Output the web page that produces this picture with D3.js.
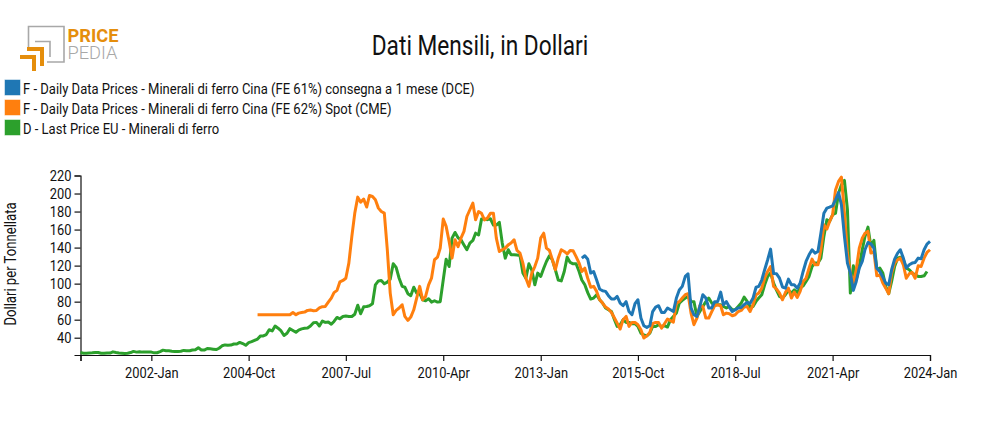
<!DOCTYPE html>
<html>
<head>
<meta charset="utf-8">
<script src="https://cdn.jsdelivr.net/npm/d3@7"></script>
<style>
    body { margin: 0; background: #fff; }
    svg text { font-family: Roboto, sans-serif; fill: #111; }
</style>
</head>
<body>
<div id="chart"></div>
<script>
// data (monthly, dollars per tonne)
const legendLabels = [
    "F - Daily Data Prices - Minerali di ferro Cina (FE 61%) consegna a 1 mese (DCE)",
    "F - Daily Data Prices - Minerali di ferro Cina (FE 62%) Spot (CME)",
    "D - Last Price EU - Minerali di ferro"
];
const seriesColors = ["#1f77b4", "#ff7f0e", "#2ca02c"];
const yTicks = [40, 60, 80, 100, 120, 140, 160, 180, 200, 220];
const xTickLabels = ["2000-Jan", "2002-Jan", "2004-Oct", "2007-Jul", "2010-Apr", "2013-Jan", "2015-Oct", "2018-Jul", "2021-Apr", "2024-Jan"];

// starts 2014-Mar
const blueValues = [
    128.3,130.9,127,111.7,113.5,104,94,92,91.4,86.6,
    82.9,82.9,85.8,78.4,75.5,80,69,65.5,77.7,82.1,61.8,53.3,
    51.4,53.3,69,74,75.5,68,68,73,71,69,84,93,
    97,108,111,73,65.5,63.6,74.7,87.7,84,73,73,80,
    80,90.6,76.6,80,74,69,71,73,73.6,76.6,79,78,
    84,96,97,104,115.4,126.5,138.3,111.3,110.9,106.1,96.2,95,
    105,98.7,98.7,95,100.6,113.5,124.6,132,137.6,133.9,135.7,156,
    178.2,183.8,184.9,186.4,193,201.2,187.5,152.4,122.8,111.7,92.5,102.4,
    117.2,124.6,137.6,145.7,144.2,139.4,117.2,113.5,107.3,100.6,98.7,115.4,
    127.2,133.9,137.6,128.3,117.2,121,122.8,123.5,128.3,127.6,137.6,143.9,
    146.8
];
// starts 2005-Jan
const orangeValues = [
    65.5,65.5,65.5,65.5,65.5,65.5,65.5,65.5,65.5,65.5,65.5,65.5,
    68,65.5,67.3,68,68.4,70.3,70.7,70,70.3,73,74.4,74.7,
    79.5,84,90,92.5,102,103.5,106,122.8,152.4,178,196,190.4,
    193.8,185,197.8,196.7,193,183.8,180,178.2,137.6,89.5,65.5,70.3,
    73,76.6,63.6,59.2,62.9,71,84,97,82,85.8,98.7,106,
    126.5,129.4,139.4,171.6,163.5,146.8,128.3,148.7,141,150.5,158,174.5,
    182,189.3,170.8,180,178,170.8,172.7,178,178,150.5,135.7,137.6,
    139.4,143,145,148.7,136.8,133.9,122.8,106,97,111.7,119,128.3,
    150.5,156,139.4,136.8,126.5,115.4,128.3,137.6,135.7,133,136.8,136.5,
    130,122.8,113.5,117.2,106,96,97,91.4,82,78.4,74,71.8,
    68,61.8,56.2,49.6,60,63.6,52.5,57,57,54.4,48.8,39.6,
    42,45.9,55.5,57,57,50.7,55.5,60.7,59,57.3,78.4,80,
    84,87.7,88.8,67.3,54.4,61.8,75.5,74.7,61.8,61.8,69,75.5,
    76.6,75.5,65.5,67.3,66.6,64.4,65.5,69,70.3,74,74.7,69,
    76.6,87.7,89.5,95,106,113.5,119,96.9,94,89.5,82.1,90.2,
    95,84,90.6,84.7,91.4,102.4,106,117.2,127.2,120.9,120.9,137.6,
    165.3,160.5,169,176.4,204,213.4,218.2,178.2,133.9,111.7,100.6,115.4,
    139.4,150.5,156,158,133.9,135.7,108.7,109.8,100.6,95,88.8,111.7,
    122.8,126.5,128.3,120.9,106,111,112.4,106,119.8,119,128.3,134.6,
    137.6
];
// starts 2000-Jan
const greenValues = [
    23.5,22.8,22.8,23,23.2,23.5,23.6,22.8,22.7,23,23,24.3,
    23.5,23,22.8,22.6,22.7,23.5,24.8,24,24.4,24,24.2,24.2,
    24,23.2,23.3,24.6,26.2,25.6,25.4,25,24.8,24.6,25,25.9,
    25.6,25.5,26.4,26.6,28.9,26.4,26.3,28,27.8,27.3,26.8,28.3,
    31,32,31.7,31.8,33,33,34.8,33.5,31.6,34.5,35.6,37,
    38.5,42,42,43.5,48.8,47.5,53,50.5,47.5,42.5,45,50,
    48,46,48.5,49.8,50.5,50.7,53,56.5,57,53,58.5,57,
    57.5,55,58,62.5,61,63.5,64,63.5,63.5,66,76,66.6,
    74.3,74.7,75.5,77.7,98.7,103,103.5,99.9,101.7,105,122,118,
    106,97,96,88.8,86.6,96,89.5,89.5,82,81,83.2,79.5,
    81,79.5,80,104,127,119,150.5,156.8,151,148.7,143,137.6,
    145,148,156,154,171.6,171.6,171,172,165,165,168,145,
    128.3,137.6,132,132,131.7,131.3,111.7,106,122,115,98.7,111.7,
    108,117,124.6,131,126.5,115.4,104,103,113.5,129.4,123.5,122,
    122,113.5,104,98.7,90,82.9,84,87.7,82,78.4,72.9,71,
    69,60,52.5,54.4,60,57,57,55.5,55.5,52.5,45,43,
    42,45,52.5,52.5,54.4,52.5,53.3,51.8,60,63.6,67.3,78.4,
    81.4,84,85.8,80.3,80,63.6,69,74.7,80,84,78.4,76.6,
    76.6,76.6,74.7,73,74.7,71,71,74.7,78.4,85,80.3,74,
    74.7,80.3,84,87.7,98.7,108,111.7,100.6,92.5,85.8,84,87.7,
    92.5,89.5,93,90.2,95,97.6,102.4,108,119,122.8,122.8,128.3,
    152.4,170.8,169,176.4,178.2,200.4,209.7,214.5,182,89.5,119.8,104.3,
    119,137.6,152.4,162.7,141.3,148,115.4,117.2,111.7,96.9,88.8,102.4,
    119,128.3,129.4,126.5,117.2,115.4,111.7,109.8,108,108,108.7,113.5
];

const width = 985,
    height = 430,
    margin = {left: 80.5, right: 55, top: 175.5, bottom: 75};

const parseMonth = d3.timeParse("%Y-%b");
const formatMonth = d3.timeFormat("%Y-%b");

const svg = d3.select("#chart")
    .append("svg")
    .attr("width", width)
    .attr("height", height)
    .style("display", "block");

// Roboto is wider than the reference face, so squeeze the text to fit
function squeeze(selection, factor) {
    selection.each(function () {
        const len = this.getComputedTextLength();
        if (len > 0) {
            d3.select(this)
                .attr("textLength", len * factor)
                .attr("lengthAdjust", "spacingAndGlyphs");
        }
    });
}

const xScale = d3.scaleTime()
    .domain([parseMonth(xTickLabels[0]), parseMonth(xTickLabels[xTickLabels.length - 1])])
    .range([margin.left, width - margin.right]);

const yScale = d3.scaleLinear()
    .domain([20.8, 220])
    .range([height - margin.bottom, margin.top]);

const xAxis = d3.axisBottom(xScale)
    .tickValues(xTickLabels.map(parseMonth))
    .tickSize(6)
    .tickFormat((d, i) => i === 0 ? "" : formatMonth(d));

const yAxis = d3.axisLeft(yScale)
    .tickValues(yTicks)
    .tickSize(6);

const xG = svg.append("g")
    .attr("class", "axis x")
    .attr("transform", "translate(0," + (height - margin.bottom) + ")")
    .call(xAxis);

const yG = svg.append("g")
    .attr("class", "axis y")
    .attr("transform", "translate(" + margin.left + ",0)")
    .call(yAxis);

svg.selectAll(".axis path, .axis line").attr("stroke", "#111").attr("stroke-width", 1.2);
xG.selectAll("text").attr("font-size", 15.3).attr("dy", "0.9em");
yG.selectAll("text").attr("font-size", 15.3);
squeeze(svg.selectAll(".axis text"), 0.84);

// lines, green first so blue ends up on top
const line = d3.line()
    .x((d) => xScale(d.date))
    .y((d) => yScale(d.value));

function toPoints(values, start) {
    return values.map((v, i) => ({date: d3.timeMonth.offset(parseMonth(start), i), value: v}));
}

const series = [
    {values: greenValues, start: "2000-Jan", color: seriesColors[2]},
    {values: orangeValues, start: "2005-Jan", color: seriesColors[1]},
    {values: blueValues, start: "2014-Mar", color: seriesColors[0]}
];

svg.append("g")
    .selectAll("path")
    .data(series)
    .join("path")
    .attr("d", (d) => line(toPoints(d.values, d.start)))
    .attr("fill", "none")
    .attr("stroke", (d) => d.color)
    .attr("stroke-width", 3)
    .attr("stroke-linejoin", "round");

// title and y label
svg.append("text")
    .attr("x", 480)
    .attr("y", 55)
    .attr("text-anchor", "middle")
    .attr("font-size", 27)
    .text("Dati Mensili, in Dollari")
    .call(squeeze, 0.84);

svg.append("text")
    .attr("transform", "translate(16,264) rotate(-90)")
    .attr("text-anchor", "middle")
    .attr("font-size", 15.6)
    .text("Dollari per Tonnellata")
    .call(squeeze, 0.84);

// legend
const legend = svg.append("g")
    .selectAll("g")
    .data(legendLabels)
    .join("g")
    .attr("transform", (d, i) => "translate(5," + (80 + i * 20) + ")");

legend.append("rect")
    .attr("width", 15)
    .attr("height", 15)
    .attr("fill", (d, i) => seriesColors[i])
    .attr("stroke", (d, i) => seriesColors[i])
    .attr("stroke-opacity", 0.5);

legend.append("text")
    .attr("x", 18)
    .attr("y", 13.5)
    .attr("font-size", 15.5)
    .text((d) => d)
    .call(squeeze, 0.84);

// logo
const logo = svg.append("g").attr("fill", "none");
logo.append("path")
    .attr("d", "M28.5 50V26.5H64V62H47")
    .attr("stroke", "#a8a8a8")
    .attr("stroke-width", 1.6);
logo.append("path")
    .attr("d", "M35 41.5H50V57")
    .attr("stroke", "#a8a8a8")
    .attr("stroke-width", 1.6);
logo.append("path")
    .attr("d", "M27 49H42V66")
    .attr("stroke", "#e58e0c")
    .attr("stroke-width", 4);
logo.append("path")
    .attr("d", "M20 57H34V71")
    .attr("stroke", "#e58e0c")
    .attr("stroke-width", 4);
svg.append("text")
    .attr("x", 67.5)
    .attr("y", 41.5)
    .attr("font-size", 18)
    .attr("font-weight", 700)
    .style("fill", "#e58e0c")
    .text("PRICE")
    .attr("textLength", 51)
    .attr("lengthAdjust", "spacingAndGlyphs");
svg.append("text")
    .attr("x", 67.5)
    .attr("y", 58.5)
    .attr("font-size", 18)
    .attr("font-weight", 300)
    .style("fill", "#a8a8a8")
    .text("PEDIA")
    .attr("textLength", 50)
    .attr("lengthAdjust", "spacingAndGlyphs");
</script>
</body>
</html>
